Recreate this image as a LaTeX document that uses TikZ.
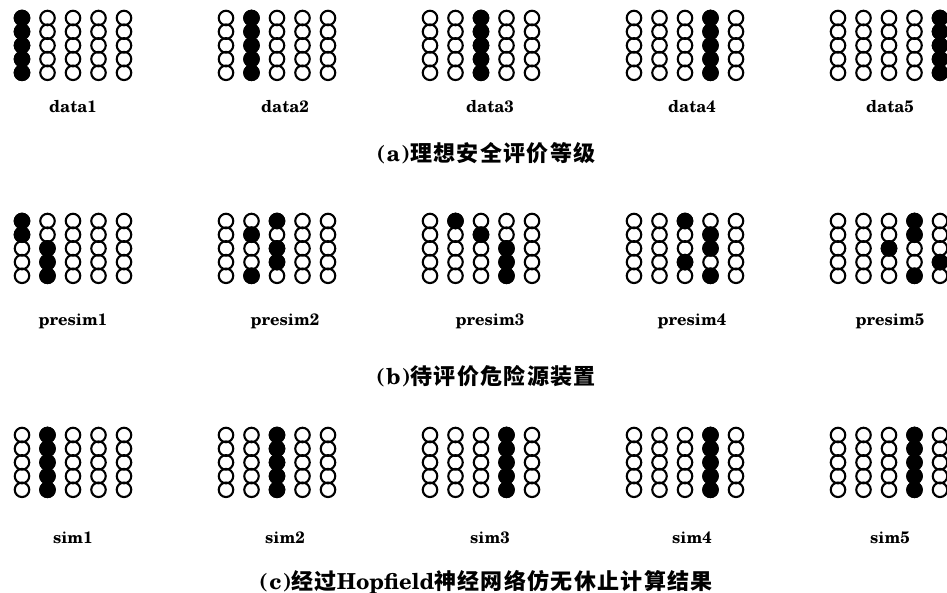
\documentclass[tikz,border=0pt]{standalone}
\usepackage{fontspec}
\setmainfont{texgyreschola}[Extension=.otf, UprightFont=*-regular, BoldFont=*-bold]
\newfontfamily\cjk{Noto Sans CJK SC}[LetterSpace=6]
\usetikzlibrary{positioning}

\begin{document}
\begin{tikzpicture}[
  x=1pt,
  y=-1pt,
  cell/.style={circle, draw, line width=2.1pt, minimum size=14.5pt, inner sep=0pt},
  on/.style={cell, fill=black},
  lab/.style={font=\fontsize{16.5}{16.5}\selectfont\bfseries, anchor=base},
  capt/.style={font=\fontsize{22}{22}\selectfont\bfseries, anchor=base}
]
  \useasboundingbox (0,0) rectangle (947,593);

  % 5x5 grids, rows a/b/c
  \foreach \r/\y in {a/18, b/221, c/435}
    \foreach \g in {0,...,4}
      \foreach \i in {1,...,5}
        \foreach \j in {1,...,5}
          \node[cell] (\r\g-\i-\j) at ({22+204*\g+25.5*(\i-1)}, {\y+13.7*(\j-1)}) {};

  % (a) ideal levels
  \foreach \g in {0,...,4}
    \foreach \j in {1,...,5} {
      \pgfmathtruncatemacro\c{\g+1}
      \node[on] (fa\g-\c-\j) at (a\g-\c-\j) {};
    }

  % (b) devices to evaluate
  \foreach \n in {b0-1-1, b0-1-2, b0-2-3, b0-2-4, b0-2-5,
                  b1-2-2, b1-2-5, b1-3-1, b1-3-3, b1-3-4,
                  b2-2-1, b2-3-2, b2-4-3, b2-4-4, b2-4-5,
                  b3-3-1, b3-3-4, b3-4-2, b3-4-3, b3-4-5,
                  b4-3-3, b4-4-1, b4-4-2, b4-4-5, b4-5-4}
    \node[on] (f\n) at (\n) {};

  % (c) after Hopfield iteration
  \foreach \g/\c in {0/2, 1/3, 2/4, 3/4, 4/4}
    \foreach \j in {1,...,5}
      \node[on] (fc\g-\c-\j) at (c\g-\c-\j) {};

  % labels
  \foreach \r/\y/\t in {a/113/data, b/326/presim, c/543/sim}
    \foreach \g/\x in {0/73, 1/285, 2/490, 3/692, 4/890} {
      \pgfmathtruncatemacro\k{\g+1}
      \node[lab] (l\r\g) at (\x,\y) {\t\k};
    }

  \node[capt] (capa) at (486,162) {(\kern1.5pt a\kern1.5pt){\cjk 理想安全评价等级}};
  \node[capt] (capb) at (486,384) {(\kern1.5pt b\kern1.5pt){\cjk 待评价危险源装置}};
  \node[capt] (capc) at (486,589) {(\kern1.5pt c\kern1.5pt){\cjk 经过}Hopfield{\cjk 神经网络仿无休止计算结果}};
\end{tikzpicture}
\end{document}
